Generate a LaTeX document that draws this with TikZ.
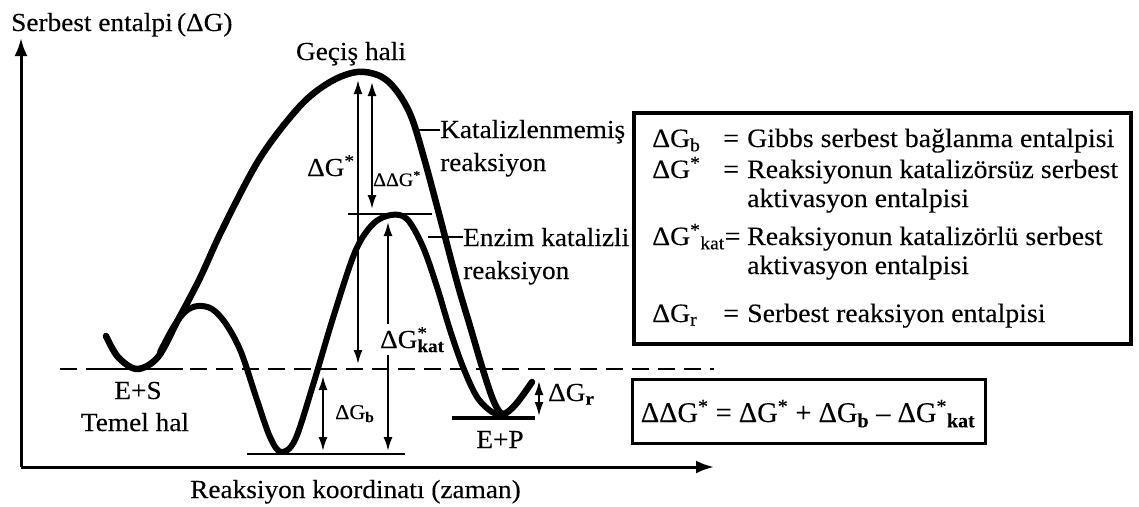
\documentclass[tikz,border=0pt]{standalone}
\usepackage{fontspec}
\setmainfont[FakeStretch=1.05,FakeBold=0.15]{Liberation Serif}
\newfontfamily\formfont[FakeBold=0.15]{Liberation Serif}
\usetikzlibrary{arrows.meta}
\tikzset{
  curve/.style={line width=6.5pt, line cap=round, line join=round},
  ecurve/.style={line width=6pt, line cap=round, line join=round},
  levelline/.style={line width=2.5pt},
  dimarrow/.style={line width=2pt, {Latex[length=14pt,width=9pt]}-{Latex[length=14pt,width=9pt]}},
  axisarrow/.style={line width=3pt, -{Latex[length=18pt,width=13pt]}},
  lbl/.style={inner sep=0pt, anchor=base west, font=\fontsize{26}{30}\selectfont},
  lblc/.style={inner sep=0pt, anchor=base, font=\fontsize{26}{30}\selectfont},
  leg/.style={inner sep=0pt, anchor=base west, font=\fontsize{26.5}{30}\selectfont},
  ptr/.style={line width=2.5pt},
}
\newcommand{\sps}[1]{\textsuperscript{#1}}
\newcommand{\sbs}[1]{\textsubscript{#1}}
\begin{document}
\begin{tikzpicture}[x=1pt,y=-1pt]
\useasboundingbox (0,0) rectangle (1139,506);
% axes
\coordinate (orig) at (21,467);
\coordinate (ytip) at (21,38);
\coordinate (xtip) at (714,467);
\draw[axisarrow] (orig) -- (ytip);
\draw[axisarrow] (orig) -- (xtip);
\node[lbl] (ylab) at (11,31) {Serbest entalpi\,(ΔG)};
\node[lbl] (xlab) at (190,498) {Reaksiyon koordinatı (zaman)};
% dashed ground level
\coordinate (dashL) at (60,369);
\coordinate (dashR) at (714,369);
\draw[levelline, dash pattern=on 17pt off 9pt] (dashL) -- (dashR);
% level lines
\coordinate (esL) at (87,369); \coordinate (esR) at (183,369);
\draw[levelline] (esL) -- (esR);
\coordinate (tsL) at (348,214); \coordinate (tsR) at (432,214);
\draw[levelline] (tsL) -- (tsR);
\coordinate (esbL) at (247,454); \coordinate (esbR) at (405,454);
\draw[levelline] (esbL) -- (esbR);
\coordinate (epL) at (452,418); \coordinate (epR) at (535,418);
\draw[line width=4pt] (epL) -- (epR);
% uncatalysed curve
\draw[curve] plot[smooth, tension=0.55] coordinates {
 (106,336) (118,357) (137,369) (158,357) (178,320) (200,278) (223,228) (260,158)
 (300,106) (330,82) (357,72) (380,76) (396,90) (411,116) (424,158) (438,210)
 (457,282) (470,326) (483,370) (494,402) (503,414) (516,404) (532,382)};
% enzyme curve
\draw[ecurve] plot[smooth, tension=0.55] coordinates {
 (160,352) (174,326) (186,311) (198,306) (212,309) (226,324) (241,352) (257,400)
 (270,437) (281,452) (295,440) (313,385) (333,318) (355,252) (373,224) (391,215)
 (407,219) (423,247) (437,287) (450,330) (463,367) (477,397) (492,412) (503,415)};
% dimension arrows
\coordinate (dgT) at (358,80); \coordinate (dgB) at (358,364);
\draw[dimarrow] (dgT) -- (dgB);
\coordinate (ddgT) at (372,82); \coordinate (ddgB) at (372,209);
\draw[dimarrow] (ddgT) -- (ddgB);
\coordinate (dgkT) at (388,222); \coordinate (dgkB) at (388,451);
\draw[dimarrow] (dgkT) -- (dgkB);
\coordinate (dgbT) at (323,376); \coordinate (dgbB) at (323,451);
\draw[dimarrow] (dgbT) -- (dgbB);
\coordinate (dgrT) at (539,381); \coordinate (dgrB) at (539,416);
\draw[dimarrow] (dgrT) -- (dgrB);
% labels on the diagram
\node[lblc] (ts) at (351,60) {Geçiş hali};
\node[lbl] (dg) at (307,176) {ΔG\sps{*}};
\node[lbl, font=\fontsize{19}{22}\selectfont] (ddg) at (373,186) {ΔΔG\sps{*}};
\node[lbl, fill=white, inner ysep=3pt] (dgk) at (380,348) {ΔG\rlap{\sps{*}}\sbs{\textbf{kat}}};
\node[lbl, font=\fontsize{21}{24}\selectfont] (dgb) at (335,419) {ΔG\sbs{\textbf{b}}};
\node[lbl] (dgr) at (548,401) {ΔG\sbs{\textbf{r}}};
\node[lblc] (es) at (138,399) {E+S};
\node[lblc] (tem) at (135,431) {Temel hal};
\node[lblc] (ep) at (500,448) {E+P};
\node[lbl] (kat1) at (440,138) {Katalizlenmemiş};
\node[lbl] (kat2) at (440,171) {reaksiyon};
\node[lbl] (enz1) at (463,246) {Enzim katalizli};
\node[lbl] (enz2) at (463,279) {reaksiyon};
\coordinate (katpt) at (415,130);
\draw[ptr] (katpt) -- (kat1.west |- katpt);
\coordinate (enzpt) at (428,237);
\draw[ptr] (enzpt) -- (enz1.west |- enzpt);
% legend
\node[draw, line width=4pt, minimum width=497pt, minimum height=231pt, inner sep=0pt] (legbox) at (882.5,228.5) {};
\node[leg] (l1) at (652,147) {\makebox[71pt][l]{ΔG\sbs{b}}\makebox[24pt][l]{=}Gibbs serbest bağlanma entalpisi};
\node[leg] (l2) at (652,178) {\makebox[71pt][l]{ΔG\sps{*}}\makebox[24pt][l]{=}Reaksiyonun katalizörsüz serbest};
\node[leg] (l3) at (747,207) {aktivasyon entalpisi};
\node[leg] (l4) at (652,245) {\makebox[95pt][l]{ΔG\sps{*}\sbs{kat}=}Reaksiyonun katalizörlü serbest};
\node[leg] (l5) at (747,274) {aktivasyon entalpisi};
\node[leg] (l6) at (652,322) {\makebox[71pt][l]{ΔG\sbs{r}}\makebox[24pt][l]{=}Serbest reaksiyon entalpisi};
% formula box
\node[draw, line width=3pt, minimum width=353pt, minimum height=64pt, inner sep=0pt] (fbox) at (808.5,411) {};
\node[inner sep=0pt, anchor=base, font=\formfont\fontsize{28.5}{32}\selectfont] (form) at (808,422)
 {ΔΔG\sps{*} = ΔG\sps{*} + ΔG\sbs{\textbf{b}} – ΔG\sps{*}\sbs{\textbf{kat}}};
\end{tikzpicture}
\end{document}
